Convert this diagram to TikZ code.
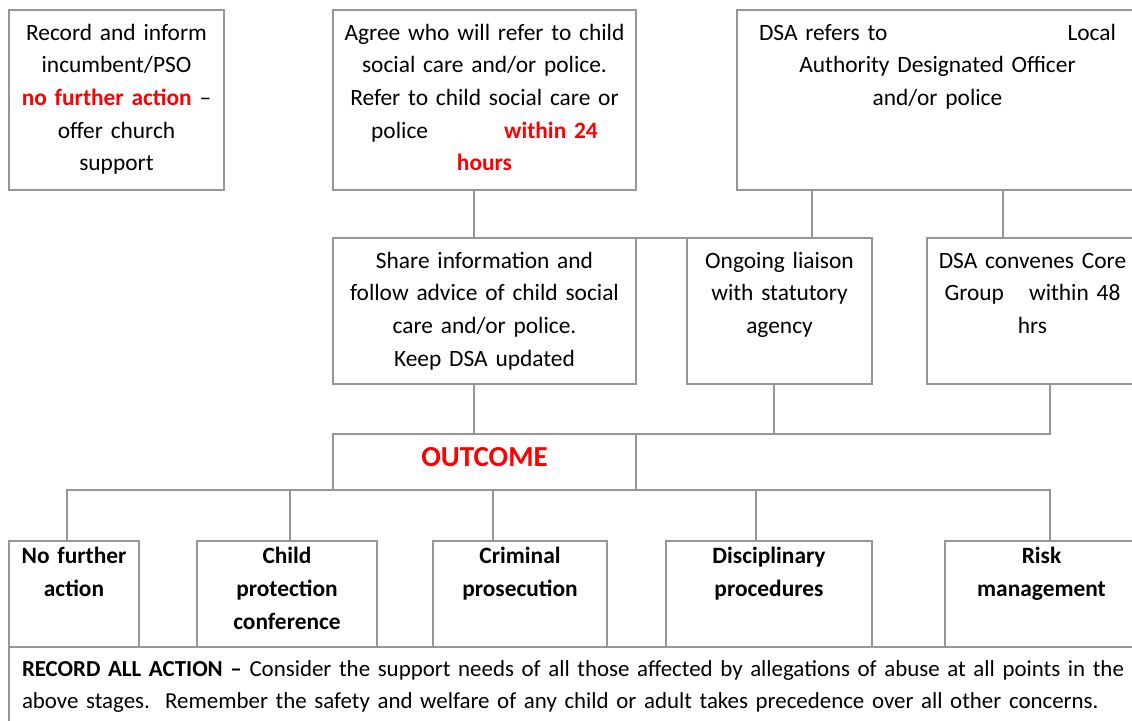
\documentclass[tikz,border=0pt]{standalone}
\usepackage{fontspec}
\setmainfont{Carlito}
\usepackage{xcolor}
\usepackage{tikz}

\definecolor{linegray}{RGB}{150,150,150}

\begin{document}
\begin{tikzpicture}[x=1pt, y=-1pt,
    cell/.style={draw=linegray, line width=1.3pt, outer sep=0pt, anchor=north west, inner xsep=0pt, inner ysep=0pt, align=center, font=\fontsize{23.4}{32.7}\selectfont},
    toprow/.style={cell, text height=30pt, text depth=150pt},
    midrow/.style={cell, text height=30pt, text depth=116pt},
    result/.style={cell, text height=22pt, text depth=84pt, font=\fontsize{23.4}{33}\selectfont\bfseries},
    link/.style={draw=linegray, line width=1.3pt}]
    \useasboundingbox (0,0) rectangle (1132,720);

    \node[toprow, text width=215pt] (record) at (9,10) {Record and inform\\ incumbent/PSO\\ \textcolor{red}{\textbf{no further action}} –\\ offer church\\ support};
    \node[toprow, text width=303pt] (agree) at (333,10) {Agree who will refer to child\\ social care and/or police.\\ Refer to child social care or\\ police\hspace{76pt}\textcolor{red}{\textbf{within 24}}\\ \textcolor{red}{\textbf{hours}}};
    \node[toprow, text width=401pt] (dsarefer) at (737,10) {DSA refers to\hspace{180pt}Local\\ Authority Designated Officer\\ and/or police};

    \node[midrow, text width=303pt] (share) at (333,238) {Share information and\\ follow advice of child social\\ care and/or police.\\ Keep DSA updated};
    \node[midrow, text width=185pt] (liaison) at (687,238) {Ongoing liaison\\ with statutory\\ agency};
    \node[midrow, text width=211pt] (core) at (927,238) {DSA convenes Core\\ Group\hspace{25pt}within 48\\ hrs};

    \node[cell, text width=303pt, text height=32pt, text depth=24pt, font=\fontsize{29}{35}\selectfont\bfseries, text=red] (outcome) at (333,434) {OUTCOME};

    \node[result, text width=130pt] (nfa) at (9,541) {No further\\ action};
    \node[result, text width=180pt] (cpc) at (197,541) {Child\\ protection\\ conference};
    \node[result, text width=174pt] (crim) at (433,541) {Criminal\\ prosecution};
    \node[result, text width=206pt] (disc) at (666,541) {Disciplinary\\ procedures};
    \node[result, text width=193pt] (risk) at (945,541) {Risk\\ management};

    \node[cell, text width=1200pt, inner xsep=13pt, text height=29pt, text depth=60pt, align=left, font=\fontsize{22.9}{32}\selectfont] (footer) at (9,647) {\textbf{RECORD ALL ACTION –} Consider the support needs of all those affected by allegations of abuse at all points in the\\ above stages.\ \ Remember the safety and welfare of any child or adult takes precedence over all other concerns.};

    % top row to middle row
    \draw[link] ([xshift=141pt]agree.south west) -- ([xshift=141pt]share.north west);
    \draw[link] (share.north east) -- (liaison.north west);
    \draw[link] ([xshift=75pt]dsarefer.south west) -- ([xshift=125pt]liaison.north west);
    \draw[link] ([xshift=266pt]dsarefer.south west) -- ([xshift=76pt]core.north west);

    % middle row to outcome
    \draw[link] ([xshift=141pt]share.south west) -- ([xshift=141pt]outcome.north west);
    \draw[link] ([xshift=87pt]liaison.south west) -- ([xshift=87pt]liaison.south west |- outcome.north);
    \draw[link] (outcome.north east) -| ([xshift=123pt]core.south west);

    % outcome to results
    \draw[link] ([xshift=58pt]nfa.north west) -- ([xshift=58pt]nfa.north west |- outcome.south) -| ([xshift=105pt]risk.north west);
    \draw[link] ([xshift=93pt]cpc.north west) -- ([xshift=93pt]cpc.north west |- outcome.south);
    \draw[link] ([xshift=60pt]crim.north west) -- ([xshift=60pt]crim.north west |- outcome.south);
    \draw[link] ([xshift=90pt]disc.north west) -- ([xshift=90pt]disc.north west |- outcome.south);
\end{tikzpicture}
\end{document}
